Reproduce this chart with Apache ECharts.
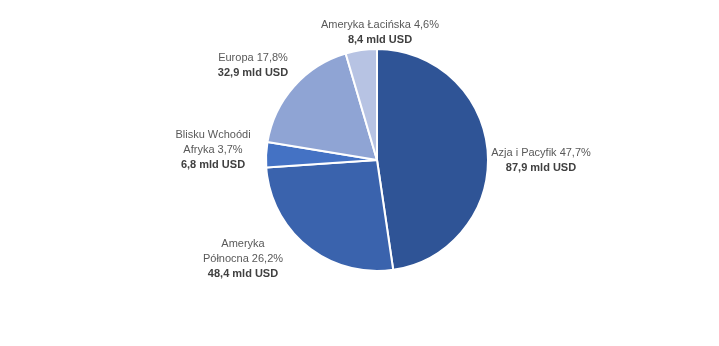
<!DOCTYPE html>
<html>
<head>
<meta charset="utf-8">
<script src="https://cdn.jsdelivr.net/npm/echarts@6/dist/echarts.min.js"></script>
<style>
  html, body { margin: 0; padding: 0; background: #ffffff; }
  #chart { width: 719px; height: 346px; }
</style>
</head>
<body>
<div id="chart"></div>
<script>
// Regions, clockwise from 12 o'clock
const regions = ['Azja i Pacyfik', 'Ameryka\nPółnocna', 'Blisku Wchoódi\nAfryka', 'Europa', 'Ameryka Łacińska'];
// Value per region, mld USD
const values = [87.9, 48.4, 6.8, 32.9, 8.4];
const colors = ['#2f5496', '#3a63ad', '#4472c4', '#8fa4d4', '#b7c3e3'];
// Label block centres (px)
const labelAt = [[541, 160], [243, 259], [213, 150], [253, 65], [380, 32]];

const total = values.reduce((a, b) => a + b, 0);
const fmtNum = v => v.toFixed(1).replace('.', ',');

const chart = echarts.init(document.getElementById('chart'), null, { renderer: 'canvas' });

chart.setOption({
  backgroundColor: '#ffffff',
  animation: false,
  series: [{
    type: 'pie',
    center: [377, 160],
    radius: 111,
    startAngle: 90,
    clockwise: true,
    itemStyle: { borderColor: '#ffffff', borderWidth: 2 },
    label: {
      show: true,
      position: 'outside',
      // share of the total rounded independently per slice
      formatter: p => p.name + ' ' + fmtNum(p.value / total * 100) + '%\n{b|' + fmtNum(p.value) + ' mld USD}',
      fontFamily: 'Liberation Sans, Arial, sans-serif',
      fontSize: 11,
      color: '#595959',
      lineHeight: 15,
      align: 'center',
      rich: {
        b: { fontWeight: 'bold', fontSize: 11, color: '#404040', lineHeight: 15,
             fontFamily: 'Liberation Sans, Arial, sans-serif' }
      }
    },
    labelLine: { show: false },
    labelLayout: p => ({
      x: labelAt[p.dataIndex][0],
      y: labelAt[p.dataIndex][1],
      align: 'center',
      verticalAlign: 'middle'
    }),
    emphasis: { disabled: true },
    data: regions.map((r, i) => ({ name: r, value: values[i], itemStyle: { color: colors[i] } }))
  }]
});
</script>
</body>
</html>
